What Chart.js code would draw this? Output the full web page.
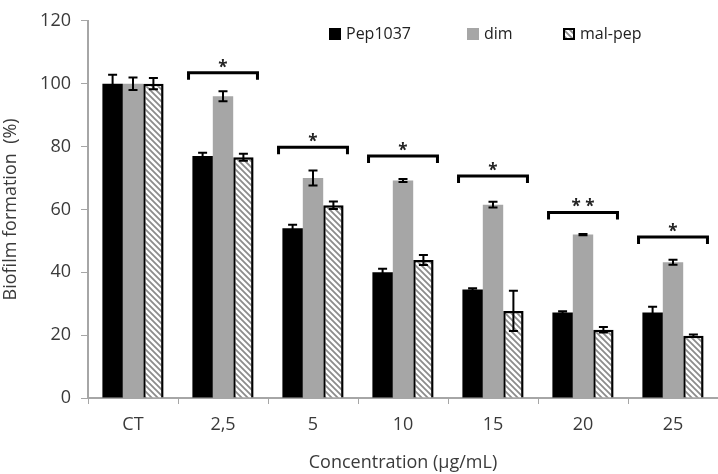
<!DOCTYPE html>
<html lang="en">
<head>
<meta charset="UTF-8" />
<title>Biofilm formation</title>
<script src="https://cdn.jsdelivr.net/npm/chart.js@4.4.0/dist/chart.umd.min.js"></script>
<style>
  html, body { margin: 0; padding: 0; background: #fff; }
  #wrap { position: relative; width: 718px; height: 474px; }
</style>
</head>
<body>
<div id="wrap"><canvas id="chart" width="718" height="474"></canvas></div>
<script>
// data
const categories = ["CT", "2,5", "5", "10", "15", "20", "25"];
const pepValues = [100, 77, 54, 40, 34.5, 27.2, 27.2];
const pepErrors = [2.8, 1.0, 1.1, 1.1, 0.4, 0.4, 1.8];
const dimValues = [100, 96, 70, 69.2, 61.5, 52, 43.2];
const dimErrors = [2.0, 1.6, 2.4, 0.5, 0.9, 0.2, 0.8];
const malValues = [100, 76.6, 61.3, 43.9, 27.7, 21.7, 19.8];
const malErrors = [1.8, 1.1, 1.2, 1.6, 6.4, 0.9, 0.4];
const sigLevels = [null, 103.5, 79.8, 77.0, 70.6, 59.0, 51.2];
const sigLabels = ["", "*", "*", "*", "*", "* *", "*"];

const FONT = "'Open Sans', sans-serif";
const TXT = "#3a3a3a";
const AXIS = "#a6a6a6";

// hatch for mal-pep bars
function makeHatch() {
  const c = document.createElement("canvas");
  c.width = 6; c.height = 6;
  const g = c.getContext("2d");
  g.fillStyle = "#fff";
  g.fillRect(0, 0, 6, 6);
  g.strokeStyle = "#8c8c8c";
  g.lineWidth = 1.8;
  g.beginPath();
  g.moveTo(-1, -1); g.lineTo(7, 7);
  g.moveTo(-4, 2); g.lineTo(4, 10);
  g.moveTo(2, -4); g.lineTo(10, 4);
  g.stroke();
  return g.createPattern(c, "repeat");
}
const hatch = makeHatch();

const errorBars = {
  id: "errorBars",
  afterDatasetsDraw(chart) {
    const { ctx, scales: { y } } = chart;
    ctx.save();
    ctx.strokeStyle = "#000";
    ctx.lineWidth = 2;
    chart.data.datasets.forEach((ds, di) => {
      const meta = chart.getDatasetMeta(di);
      meta.data.forEach((bar, i) => {
        const v = ds.data[i], e = ds.errors[i];
        const yt = y.getPixelForValue(v + e), yb = y.getPixelForValue(v - e);
        const x = bar.x, w = 4.5;
        ctx.beginPath();
        ctx.moveTo(x, yt); ctx.lineTo(x, yb);
        ctx.moveTo(x - w, yt); ctx.lineTo(x + w, yt);
        ctx.moveTo(x - w, yb); ctx.lineTo(x + w, yb);
        ctx.stroke();
      });
    });
    ctx.restore();
  }
};

const brackets = {
  id: "brackets",
  afterDatasetsDraw(chart) {
    const { ctx, scales: { x, y } } = chart;
    const cw = x.getPixelForValue(1) - x.getPixelForValue(0);
    ctx.save();
    ctx.strokeStyle = "#000";
    ctx.lineWidth = 3;
    ctx.fillStyle = "#222";
    ctx.font = "bold 17px " + FONT;
    ctx.textAlign = "center";
    ctx.textBaseline = "middle";
    sigLevels.forEach((lv, i) => {
      if (lv == null) return;
      const cx = x.getPixelForValue(i), half = cw * 0.383;
      const py = y.getPixelForValue(lv);
      ctx.beginPath();
      ctx.moveTo(cx - half, py + 7);
      ctx.lineTo(cx - half, py);
      ctx.lineTo(cx + half, py);
      ctx.lineTo(cx + half, py + 7);
      ctx.stroke();
      ctx.fillText(sigLabels[i], cx, py - 5);
    });
    ctx.restore();
  }
};

const legendBoxes = {
  id: "legendBoxes",
  afterDraw(chart) {
    const { ctx } = chart;
    const xs = [329, 467, 563];
    const cy = 34;
    ctx.save();
    ctx.font = "16px " + FONT;
    ctx.textBaseline = "middle";
    chart.data.datasets.forEach((ds, i) => {
      const bx = xs[i];
      ctx.fillStyle = ds.backgroundColor;
      ctx.fillRect(bx, cy - 6, 12, 12);
      if (ds.borderWidth) {
        ctx.strokeStyle = "#000";
        ctx.lineWidth = 2;
        ctx.strokeRect(bx + 1, cy - 5, 10, 10);
      }
      ctx.fillStyle = "#222";
      ctx.fillText(ds.label, bx + 17, cy);
    });
    ctx.restore();
  }
};

new Chart(document.getElementById("chart"), {
  type: "bar",
  data: {
    labels: categories,
    datasets: [
      { label: "Pep1037", data: pepValues, errors: pepErrors, backgroundColor: "#000000", borderWidth: 0 },
      { label: "dim", data: dimValues, errors: dimErrors, backgroundColor: "#a6a6a6", borderWidth: 0 },
      { label: "mal-pep", data: malValues, errors: malErrors, backgroundColor: hatch, borderColor: "#000", borderWidth: 2.5 }
    ]
  },
  options: {
    responsive: false,
    animation: false,
    layout: { padding: { top: 15, right: 0, left: 0, bottom: 0 } },
    datasets: { bar: { categoryPercentage: 0.68, barPercentage: 1.0 } },
    plugins: { legend: { display: false }, tooltip: { enabled: false } },
    scales: {
      x: {
        grid: { drawOnChartArea: false, drawTicks: true, tickLength: 6, color: AXIS, offset: true },
        border: { color: AXIS, width: 2 },
        ticks: { color: TXT, font: { family: FONT, size: 18 }, padding: 10 },
        title: { display: true, text: "Concentration (µg/mL)", color: TXT, font: { family: FONT, size: 18 }, padding: { top: 4, bottom: 0 } },
        afterFit(s) { s.height = 76; }
      },
      y: {
        min: 0, max: 120,
        ticks: { stepSize: 20, color: TXT, font: { family: FONT, size: 18 }, padding: 10 },
        grid: { drawOnChartArea: false, drawTicks: true, tickLength: 7, color: AXIS },
        border: { color: AXIS, width: 2 },
        title: { display: true, text: "Biofilm formation  (%)", color: TXT, font: { family: FONT, size: 18 }, padding: { top: 0, bottom: 0 } },
        afterFit(s) { s.width = 88; }
      }
    }
  },
  plugins: [errorBars, brackets, legendBoxes]
});
</script>
</body>
</html>
